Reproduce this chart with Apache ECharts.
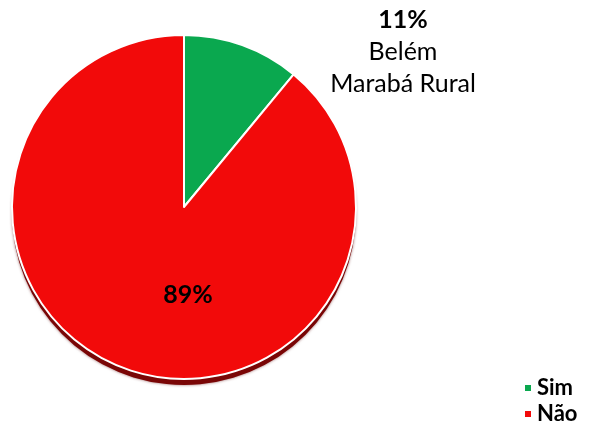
<!DOCTYPE html>
<html>
<head>
<meta charset="utf-8">
<script src="https://cdn.jsdelivr.net/npm/echarts@6/dist/echarts.min.js"></script>
<style>
html,body{margin:0;padding:0;background:#fff;}
#c{width:592px;height:426px;}
</style>
</head>
<body>
<div id="c"></div>
<script>
const categories = ['Sim', 'Não'];
const values = [11, 89];
const colors = ['#0aa84f', '#f20a0a'];
const subtitleLines = ['Belém', 'Marabá Rural'];

const FONT = 'Lato';
const pieData = categories.map((c, i) => ({ name: c, value: values[i] }));
const chart = echarts.init(document.getElementById('c'));
chart.setOption({
  animation: false,
  color: colors,
  legend: {
    orient: 'vertical',
    left: 518,
    top: 372,
    height: 60,
    icon: 'rect',
    itemWidth: 8,
    itemHeight: 8,
    itemGap: 4,
    data: categories,
    textStyle: { fontFamily: FONT, fontWeight: 'bold', fontSize: 22, color: '#000' }
  },
  series: [{
    type: 'pie',
    z: 3,
    center: [184, 207],
    radius: 172,
    startAngle: 90,
    clockwise: true,
    data: pieData,
    itemStyle: {
      borderColor: '#fff',
      borderWidth: 2
    },
    emphasis: { disabled: true },
    labelLine: { show: false },
    label: {
      show: true,
      position: 'inside',
      fontFamily: FONT,
      fontSize: 25,
      color: '#000',
      formatter: function (p) {
        if (p.dataIndex === 0) {
          return '{b|' + p.percent.toFixed(0) + '%}\n{n|' + subtitleLines.join('}\n{n|') + '}';
        }
        return '{b|' + p.percent.toFixed(0) + '%}';
      },
      rich: {
        b: { fontFamily: FONT, fontWeight: 'bold', fontSize: 25, color: '#000', lineHeight: 32 },
        n: { fontFamily: FONT, fontSize: 25, color: '#000', lineHeight: 32 }
      }
    },
    labelLayout: function (p) {
      if (p.dataIndex === 0) {
        return { x: 403, y: 52, align: 'center', verticalAlign: 'middle' };
      }
      return { x: 188, y: 295, align: 'center', verticalAlign: 'middle' };
    }
  }, {
    type: 'pie',
    z: 1,
    silent: true,
    center: [184, 213],
    radius: 172,
    startAngle: 90,
    clockwise: true,
    data: pieData,
    itemStyle: {
      color: '#7a0606',
      borderWidth: 0,
      shadowColor: 'rgba(90,0,0,0.6)',
      shadowBlur: 3
    },
    emphasis: { disabled: true },
    label: { show: false },
    labelLine: { show: false }
  }]
});
</script>
</body>
</html>
